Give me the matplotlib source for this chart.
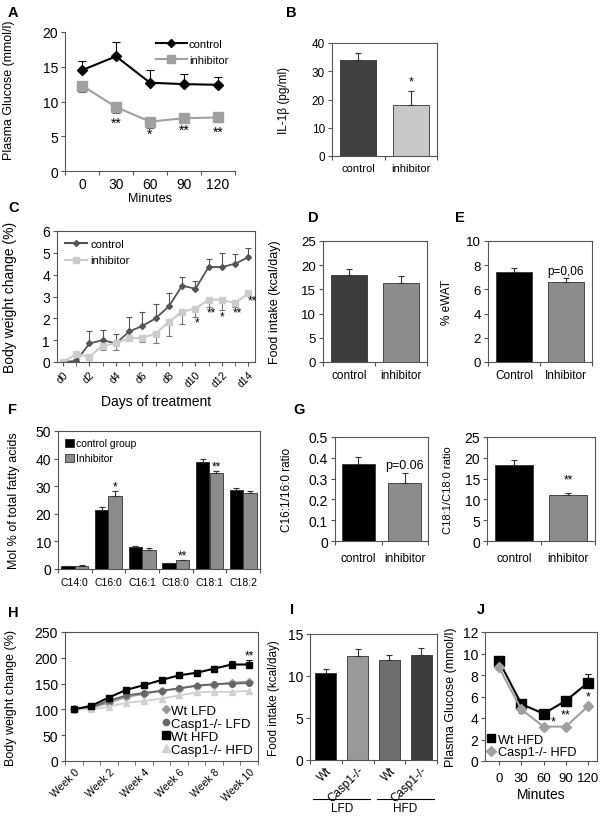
import matplotlib
matplotlib.use("Agg")
import matplotlib.pyplot as plt
from matplotlib.lines import Line2D
import numpy as np

W, H = 604, 820
plt.rcParams['font.family'] = ['Liberation Sans', 'DejaVu Sans']

# ---- datos ----
# A: glucosa
minutos = ['0', '30', '60', '90', '120']
a_control = [14.5, 16.5, 12.7, 12.5, 12.4]
a_control_err = [1.3, 2.0, 1.9, 1.4, 1.1]
a_inhib = [12.3, 9.2, 7.1, 7.6, 7.7]
a_inhib_err = [0.9, 0.8, 0.9, 0.6, 0.7]

# B: IL-1b
grupos = ['control', 'inhibitor']
b_vals = [34.0, 18.0]
b_err = [2.5, 5.0]

# C: peso corporal
dias = ['d%d' % i for i in range(15)]
c_control = [0, 0.05, 0.85, 1.0, 0.85, 1.4, 1.65, 2.0, 2.55, 3.5, 3.35, 4.35, 4.35, 4.5, 4.8]
c_control_err = [0, 0.1, 0.55, 0.45, 0.45, 0.65, 0.65, 0.65, 0.6, 0.4, 0.35, 0.35, 0.65, 0.45, 0.4]
c_inhib = [0, 0.35, 0.25, 0.75, 0.85, 1.1, 1.1, 1.3, 1.85, 2.3, 2.45, 2.85, 2.85, 2.7, 3.15]
c_inhib_err = [0, 0.1, 0.3, 0.2, 0.3, 0.1, 0.2, 0.45, 0.65, 0.55, 0.4, 0.35, 0.45, 0.2, 0.1]

# D, E
d_vals = [18.0, 16.4]
d_err = [1.2, 1.4]
e_labels = ['Control', 'Inhibitor']
e_vals = [7.4, 6.6]
e_err = [0.35, 0.35]

# F: acidos grasos
acidos = ['C14:0', 'C16:0', 'C16:1', 'C18:0', 'C18:1', 'C18:2']
f_control = [1.0, 21.3, 7.8, 2.1, 38.8, 28.8]
f_control_err = [0.2, 1.2, 0.4, 0.2, 0.9, 0.6]
f_inhib = [1.1, 26.3, 7.0, 3.1, 34.7, 27.5]
f_inhib_err = [0.3, 2.0, 0.6, 0.3, 0.9, 0.9]

# G: ratios
g1_vals = [0.37, 0.28]
g1_err = [0.032, 0.045]
g2_vals = [18.3, 11.1]
g2_err = [1.1, 0.5]

# H: semanas
semanas = ['Week %d' % i for i in range(11)]
h_wt_lfd = [100, 103, 113, 124, 130, 136, 140, 146, 148, 152, 154]
h_ko_lfd = [100, 104, 117, 127, 132, 136, 141, 146, 149, 150, 151]
h_wt_hfd = [100, 107, 123, 138, 147, 157, 166, 171, 179, 187, 187]
h_ko_hfd = [100, 100, 105, 113, 116, 121, 127, 133, 134, 134, 136]
h_wt_hfd_err = [2, 3, 4, 5, 4, 4, 4, 4, 5, 6, 8]

# I: ingesta
i_labels = ['Wt', 'Casp1-/-', 'Wt', 'Casp1-/-']
i_dietas = ['LFD', 'HFD']
i_vals = [10.3, 12.4, 11.9, 12.5]
i_err = [0.5, 0.8, 0.6, 0.8]

# J: glucosa HFD
j_wt = [9.3, 5.3, 4.4, 5.6, 7.3]
j_wt_err = [0.35, 0.3, 0.2, 0.2, 0.8]
j_ko = [8.7, 4.8, 3.2, 3.2, 5.1]
j_ko_err = [0.2, 0.3, 0.3, 0.2, 0.2]

fig = plt.figure(figsize=(W / 100, H / 100), dpi=100)


def ejes(x0, y0, x1, y1, caja=True, fs=10):
    ax = fig.add_axes([x0 / W, 1 - y1 / H, (x1 - x0) / W, (y1 - y0) / H])
    ax.spines['top'].set_visible(caja)
    ax.spines['right'].set_visible(caja)
    for s in ax.spines.values():
        s.set_color('#555555')
        s.set_linewidth(0.8)
    ax.tick_params(labelsize=fs, length=3, width=0.8, color='#555555', pad=2)
    return ax


def ylabel_px(ax, texto, xpx, fs, ypx=None):
    x0, y0, w, h = ax.get_position().bounds
    fx = (xpx / W - x0) / w
    fy = 0.5 if ypx is None else ((1 - ypx / H) - y0) / h
    ax.set_ylabel(texto, fontsize=fs)
    ax.yaxis.set_label_coords(fx, fy)


def cat_ticks(ax, n, labels, fs, rot=0):
    x = np.arange(n)
    ax.set_xlim(-0.5, n - 0.5)
    ax.set_xticks(x)
    if rot:
        ax.set_xticklabels(labels, fontsize=fs, rotation=rot, ha='right', rotation_mode='anchor')
    else:
        ax.set_xticklabels(labels, fontsize=fs)
    ax.set_xticks(np.arange(n + 1) - 0.5, minor=True)
    ax.tick_params(axis='x', which='major', length=0, pad=5)
    ax.tick_params(axis='x', which='minor', length=3, width=0.8, color='#555555')


def barras(ax, vals, errs, colores, labels, ylim, paso, fs_x=8.5, ancho=0.68):
    n = len(vals)
    x = np.arange(n)
    ax.bar(x, vals, width=ancho, color=colores, edgecolor='#333333', linewidth=0.6, zorder=2)
    ax.errorbar(x, vals, yerr=[np.zeros(n), errs], fmt='none', ecolor='#333333',
                elinewidth=0.8, capsize=2.5, capthick=0.8, zorder=3)
    ax.set_ylim(*ylim)
    ax.set_yticks(np.arange(ylim[0], ylim[1] + paso / 2, paso))
    cat_ticks(ax, n, labels, fs_x)


def etiqueta(letra, x, y):
    fig.text(x / W, 1 - y / H, letra, fontsize=10.5, fontweight='bold', va='center', ha='left')


def marcador(color, m, ms, ls='none'):
    return Line2D([], [], color=color, marker=m, ms=ms, ls=ls, lw=1.5)


# ---------- A ----------
ax = ejes(65, 33, 235, 172, caja=False, fs=10)
x = np.arange(len(minutos))
ax.errorbar(x, a_control, yerr=[np.zeros(5), a_control_err], color='black', marker='D',
            ms=5, lw=1.5, capsize=3, elinewidth=0.8, capthick=0.8)
ax.errorbar(x, a_inhib, yerr=[a_inhib_err, np.zeros(5)], color='#a0a0a0', marker='s',
            ms=7, lw=1.5, capsize=3, elinewidth=0.8, capthick=0.8, ecolor='#666666')
ax.set_ylim(0, 20)
ax.set_yticks([0, 5, 10, 15, 20])
cat_ticks(ax, 5, minutos, 10)
ax.tick_params(axis='x', which='major', pad=4)
for xi, yi, s in [(1, 7.0, '**'), (2, 5.3, '*'), (3, 6.0, '**'), (4, 5.6, '**')]:
    ax.text(xi, yi, s, ha='center', va='center', fontsize=10)
ax.legend([marcador('black', 'D', 4.5, '-'), marcador('#a0a0a0', 's', 6, '-')],
          ['control', 'inhibitor'], loc='upper right', frameon=False, fontsize=8,
          handlelength=2.8, handletextpad=0.2, borderaxespad=0.2, labelspacing=0.6)
ylabel_px(ax, 'Plasma Glucose (mmol/l)', 15, 9, ypx=90)
ax.set_xlabel('Minutes', fontsize=9, labelpad=1)
etiqueta('A', 8, 13)

# ---------- B ----------
ax = ejes(332, 44, 437, 157, fs=8.5)
barras(ax, b_vals, b_err, ['#404040', '#c8c8c8'], grupos, (0, 40), 10, fs_x=8)
ax.text(1, 26.3, '*', ha='center', va='center', fontsize=9)
ylabel_px(ax, 'IL-1β (pg/ml)', 290, 8.5)
etiqueta('B', 286, 13)

# ---------- C ----------
ax = ejes(57, 232, 255, 363, fs=10)
x = np.arange(len(dias))
ax.errorbar(x, c_control, yerr=[np.zeros(15), c_control_err], color='#555555', marker='D',
            ms=3, lw=1.3, capsize=2.5, elinewidth=0.8, capthick=0.8)
ax.errorbar(x, c_inhib, yerr=[c_inhib_err, np.zeros(15)], color='#cccccc', marker='s',
            ms=4, lw=1.5, capsize=2.5, elinewidth=0.8, capthick=0.8, ecolor='#777777')
ax.set_xlim(-0.45, 14.5)
ax.set_ylim(0, 6)
ax.set_yticks(range(7))
ax.set_xticks(x[::2])
ax.set_xticklabels(dias[::2], fontsize=7.5, rotation=45, ha='right', rotation_mode='anchor')
ax.set_xticks(x, minor=True)
ax.tick_params(axis='x', which='both', length=3, color='#555555')
for xi, yi, s in [(10.1, 1.8, '*'), (11.2, 2.25, '**'), (12.0, 2.1, '*'), (13.2, 2.25, '**'), (14.3, 2.8, '**')]:
    ax.text(xi, yi, s, ha='center', va='center', fontsize=8.5)
ax.legend([marcador('#555555', 'D', 3, '-'), marcador('#cccccc', 's', 4, '-')],
          ['control', 'inhibitor'], loc='upper left', frameon=False, fontsize=8,
          handlelength=2.0, handletextpad=0.3, borderaxespad=0.3, labelspacing=0.6)
ylabel_px(ax, 'Body weight change (%)', 17, 10)
ax.set_xlabel('Days of treatment', fontsize=10, labelpad=4)
etiqueta('C', 8, 208)

# ---------- D ----------
ax = ejes(323, 242, 427, 363, fs=9.5)
barras(ax, d_vals, d_err, ['#3c3c3c', '#8c8c8c'], grupos, (0, 25), 5, fs_x=8.5, ancho=0.7)
ylabel_px(ax, 'Food intake (kcal/day)', 281, 9)
etiqueta('D', 308, 218)

# ---------- E ----------
ax = ejes(488, 242, 592, 363, fs=9.5)
barras(ax, e_vals, e_err, ['black', '#8c8c8c'], e_labels, (0, 10), 2, fs_x=8.5, ancho=0.7)
ax.text(1, 7.5, 'p=0,06', ha='center', va='center', fontsize=8.5)
ylabel_px(ax, '% eWAT', 453, 8.5)
etiqueta('E', 455, 218)

# ---------- F ----------
ax = ejes(58, 432, 260, 570, fs=10)
n = len(acidos)
x = np.arange(n)
ax.bar(x - 0.2, f_control, width=0.4, color='black', edgecolor='#222222', linewidth=0.6,
       label='control group', zorder=2)
ax.bar(x + 0.2, f_inhib, width=0.4, color='#8c8c8c', edgecolor='#333333', linewidth=0.6,
       label='Inhibitor', zorder=2)
ax.errorbar(x - 0.2, f_control, yerr=[np.zeros(n), f_control_err], fmt='none', ecolor='#333333',
            elinewidth=0.8, capsize=2, capthick=0.8, zorder=3)
ax.errorbar(x + 0.2, f_inhib, yerr=[np.zeros(n), f_inhib_err], fmt='none', ecolor='#333333',
            elinewidth=0.8, capsize=2, capthick=0.8, zorder=3)
ax.set_ylim(0, 50)
ax.set_yticks(range(0, 51, 10))
cat_ticks(ax, n, acidos, 7.5)
ax.tick_params(axis='x', which='major', pad=6)
for xi, yi, s in [(1.2, 30.0, '*'), (3.2, 5.0, '**'), (4.2, 37.0, '**')]:
    ax.text(xi, yi, s, ha='center', va='center', fontsize=8.5)
ax.legend(loc='upper left', frameon=False, fontsize=7.5, handlelength=0.8, handleheight=0.8,
          handletextpad=0.2, borderaxespad=0.3, labelspacing=0.5)
ylabel_px(ax, 'Mol % of total fatty acids', 20, 9)
etiqueta('F', 8, 410)

# ---------- G ----------
ax = ejes(335, 438, 428, 542, fs=10)
barras(ax, g1_vals, g1_err, ['black', '#8c8c8c'], grupos, (0, 0.5), 0.1, fs_x=8.5, ancho=0.7)
ax.set_yticklabels(['0', '0.1', '0.2', '0.3', '0.4', '0.5'])
ax.tick_params(axis='x', which='major', pad=8)
ax.text(1, 0.365, 'p=0.06', ha='center', va='center', fontsize=9)
ylabel_px(ax, 'C16:1/16:0 ratio', 293, 8.5)
etiqueta('G', 293, 410)

ax = ejes(487, 438, 595, 542, fs=10)
barras(ax, g2_vals, g2_err, ['black', '#8c8c8c'], grupos, (0, 25), 5, fs_x=8.5, ancho=0.7)
ax.tick_params(axis='x', which='major', pad=8)
ax.text(1, 14.9, '**', ha='center', va='center', fontsize=8.5)
ylabel_px(ax, 'C18:1/C18:0 ratio', 453, 8)

# ---------- H ----------
ax = ejes(65, 633, 258, 762, fs=10)
x = np.arange(len(semanas))
ax.plot(x, h_wt_lfd, color='#9a9a9a', marker='D', ms=4, lw=1.3)
ax.plot(x, h_ko_lfd, color='#666666', marker='o', ms=4, lw=1.3)
ax.errorbar(x, h_wt_hfd, yerr=[np.zeros(11), h_wt_hfd_err], color='black', marker='s', ms=4.5,
            lw=1.5, capsize=2.5, elinewidth=0.8, capthick=0.8)
ax.plot(x, h_ko_hfd, color='#d0d0d0', marker='^', ms=4, lw=1.3)
ax.set_xlim(-0.45, 10.5)
ax.set_ylim(0, 250)
ax.set_yticks(range(0, 251, 50))
ax.set_xticks(x[::2])
ax.set_xticklabels(semanas[::2], fontsize=7.5, rotation=45, ha='right', rotation_mode='anchor')
ax.set_xticks(np.arange(12) - 0.5, minor=True)
ax.tick_params(axis='x', which='major', length=0, pad=4)
ax.tick_params(axis='x', which='minor', length=3, color='#555555')
ax.text(10, 205, '**', ha='center', va='center', fontsize=8.5)
ax.legend([marcador('#9a9a9a', 'D', 4.5), marcador('#666666', 'o', 4.5),
           marcador('black', 's', 5.5), marcador('#d0d0d0', '^', 5.5)],
          ['Wt LFD', 'Casp1-/- LFD', 'Wt HFD', 'Casp1-/- HFD'],
          loc='lower right', frameon=False, fontsize=9.5, handlelength=0.5,
          handletextpad=0.15, borderaxespad=0.0, labelspacing=0.05)
ylabel_px(ax, 'Body weight change (%)', 17, 9)
etiqueta('H', 8, 613)

# ---------- I ----------
ax = ejes(310, 635, 437, 761, fs=10)
barras(ax, i_vals, i_err, ['black', '#999999', '#6e6e6e', '#3c3c3c'], i_labels, (0, 15), 5,
       fs_x=8, ancho=0.66)
ax.set_xticklabels(i_labels, fontsize=8.5, rotation=45, ha='right', rotation_mode='anchor')
ax.tick_params(axis='x', which='major', pad=3)
for (xa, xb), txt in zip([(-0.4, 1.4), (1.6, 3.4)], i_dietas):
    ax.plot([xa, xb], [-4.7, -4.7], color='black', lw=0.8, clip_on=False)
    ax.text((xa + xb) / 2, -5.0, txt, ha='center', va='top', fontsize=8.5, clip_on=False)
ylabel_px(ax, 'Food intake (kcal/day)', 280, 8.5)
etiqueta('I', 290, 610)

# ---------- J ----------
ax = ejes(485, 633, 597, 762, fs=10)
x = np.arange(len(minutos))
ax.errorbar(x, j_wt, yerr=[np.zeros(5), j_wt_err], color='black', marker='s', ms=6.5,
            lw=1.5, capsize=2.5, elinewidth=0.8, capthick=0.8)
ax.errorbar(x, j_ko, yerr=[j_ko_err, np.zeros(5)], color='#a0a0a0', marker='D', ms=5,
            lw=1.5, capsize=2.5, elinewidth=0.8, capthick=0.8, ecolor='#777777')
ax.set_xlim(-0.63, 4.4)
ax.set_ylim(0, 12)
ax.set_yticks(range(0, 13, 2))
ax.set_xticks(x)
ax.set_xticklabels(minutos, fontsize=9.5)
ax.tick_params(axis='x', length=3, pad=5)
for xi, yi, s in [(2.42, 3.7, '*'), (3.0, 4.3, '**'), (4.0, 6.0, '*')]:
    ax.text(xi, yi, s, ha='center', va='center', fontsize=9, zorder=5)
ax.legend([marcador('black', 's', 6), marcador('#a0a0a0', 'D', 5)],
          ['Wt HFD', 'Casp1-/- HFD'],
          loc='lower left', frameon=False, fontsize=9.2, handlelength=0.6,
          handletextpad=0.2, borderaxespad=0.0, borderpad=0.2, labelspacing=0.05)
ylabel_px(ax, 'Plasma Glucose (mmol/l)', 457, 9)
ax.set_xlabel('Minutes', fontsize=10, labelpad=2)
etiqueta('J', 477, 610)

fig.savefig('out.png', dpi=100)
